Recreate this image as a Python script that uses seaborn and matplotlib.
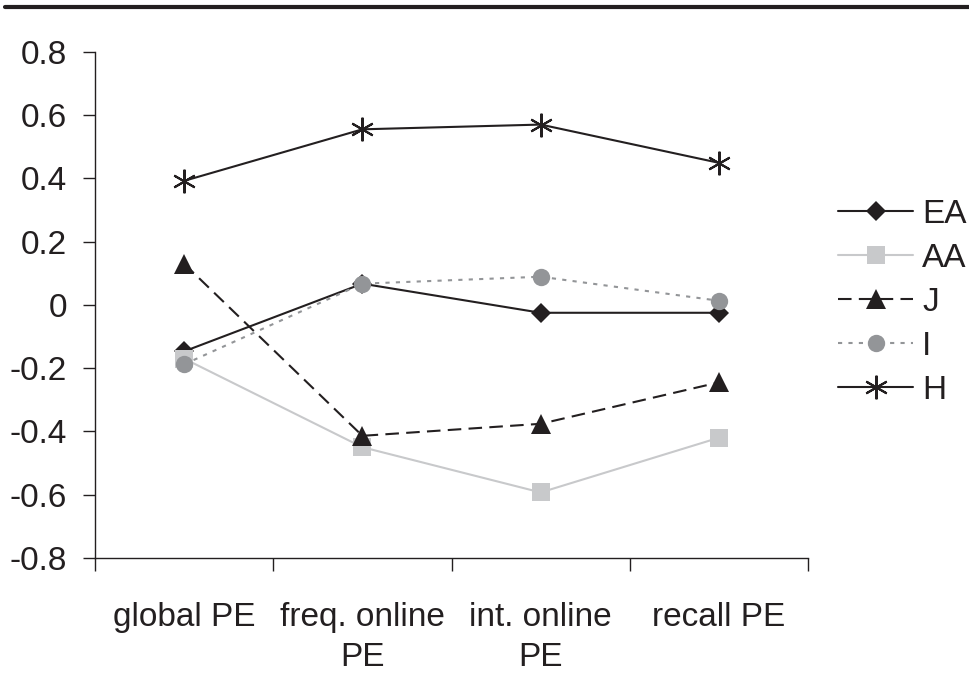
import numpy as np
import pandas as pd
import matplotlib
matplotlib.use("Agg")
import matplotlib.pyplot as plt
from matplotlib.lines import Line2D
import seaborn as sns

# Données
categories = ["global PE", "freq. online\nPE", "int. online\nPE", "recall PE"]
groups = ["EA", "AA", "J", "I", "H"]
ea_values = [-0.147, 0.067, -0.025, -0.025]
aa_values = [-0.17, -0.45, -0.593, -0.42]
j_values = [0.13, -0.414, -0.376, -0.245]
i_values = [-0.188, 0.067, 0.089, 0.013]
h_values = [0.392, 0.555, 0.57, 0.449]
yticks = [-0.8, -0.6, -0.4, -0.2, 0, 0.2, 0.4, 0.6, 0.8]

series = {"EA": ea_values, "AA": aa_values, "J": j_values, "I": i_values, "H": h_values}

# Styles de chaque série
styles = {
    "EA": dict(color="#231f20", marker="D", markersize=10, linestyle="-"),
    "AA": dict(color="#c8c9cb", marker="s", markersize=12.5, linestyle="-"),
    "J": dict(color="#231f20", marker="^", markersize=14, linestyle=(0, (6.5, 3.5))),
    "I": dict(color="#939598", marker="o", markersize=12.5, linestyle=(0, (2, 3))),
    "H": dict(color="#231f20", marker=(6, 2, 0), markersize=17, linestyle="-"),
}

df = pd.DataFrame({
    "pos": np.tile(np.arange(len(categories)), len(groups)),
    "value": np.concatenate([series[g] for g in groups]),
    "group": np.repeat(groups, len(categories)),
})

sns.set_style("white")
plt.rcParams["font.family"] = ["Liberation Sans", "DejaVu Sans"]
plt.rcParams["text.color"] = "#231f20"

fig = plt.figure(figsize=(9.69, 6.73), dpi=100)
ax = fig.add_axes([0.098, 0.171, 0.736, 0.752])

for g in groups:
    st = styles[g]
    sub = df[df["group"] == g]
    sns.lineplot(data=sub, x="pos", y="value", ax=ax, color=st["color"],
                 linewidth=1.5, marker=st["marker"], markersize=st["markersize"],
                 markeredgecolor=st["color"], markeredgewidth=1.5 if g == "H" else 0,
                 label=g, legend=False)
    ax.lines[-1].set_linestyle(st["linestyle"])

ax.set_xlim(-0.5, len(categories) - 0.5)
ax.set_ylim(-0.8, 0.8)
ax.set_yticks(yticks)
ax.set_yticklabels([f"{v:g}" for v in yticks], fontsize=24, color="#231f20")
ax.set_xticks(np.arange(len(categories) + 1) - 0.5)
ax.set_xticklabels([])
ax.set_xticks(np.arange(len(categories)), minor=True)
ax.set_xticklabels(categories, minor=True, fontsize=24, linespacing=1.35, color="#231f20")
ax.tick_params(axis="x", which="minor", length=0, pad=32)
ax.tick_params(axis="both", which="major", length=9, width=1, color="#231f20",
               direction="out", bottom=True, left=True)
ax.tick_params(axis="y", which="major", pad=11)
ax.set_xlabel("")
ax.set_ylabel("")
for side in ["top", "right"]:
    ax.spines[side].set_visible(False)
for side in ["left", "bottom"]:
    ax.spines[side].set_color("#231f20")
    ax.spines[side].set_linewidth(1)

handles = []
for g in groups:
    st = styles[g]
    handles.append(Line2D([], [], color=st["color"], linewidth=1.5, linestyle=st["linestyle"],
                          marker=st["marker"], markersize=st["markersize"],
                          markeredgecolor=st["color"],
                          markeredgewidth=1.5 if g == "H" else 0))
ax.legend(handles, groups, loc="center left", bbox_to_anchor=(0.865, 0.551),
          bbox_transform=fig.transFigure, frameon=False, borderpad=0, borderaxespad=0,
          fontsize=24, handlelength=2.25, handletextpad=0.27, labelspacing=0.39)

# Ligne horizontale en haut de la figure
fig.add_artist(Line2D([0.005, 1.0], [0.989, 0.989], color="#231f20", linewidth=3,
                      transform=fig.transFigure))

fig.savefig("out.png", dpi=100)
